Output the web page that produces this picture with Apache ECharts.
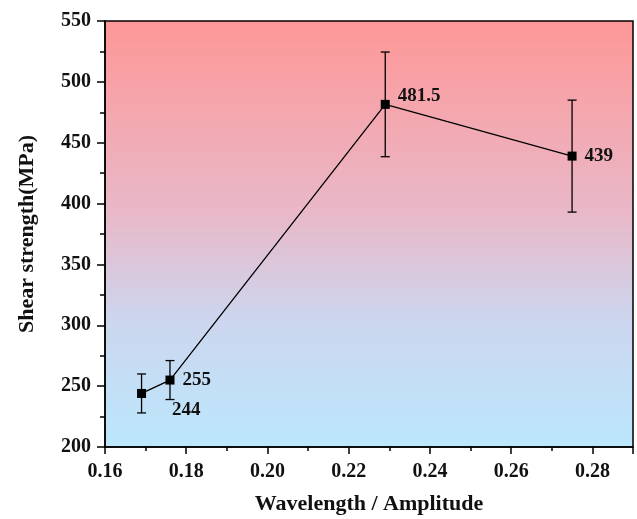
<!DOCTYPE html>
<html>
<head>
<meta charset="utf-8">
<script src="https://cdn.jsdelivr.net/npm/echarts@6/dist/echarts.min.js"></script>
<style>html,body{margin:0;padding:0;background:#fff}#c{width:637px;height:519px}</style>
</head>
<body>
<div id="c"></div>
<script>
const ratios = [0.169, 0.176, 0.229, 0.275];
const strength = [244, 255, 481.5, 439];
const errors = [16, 16, 43, 46];
const labelOffsets = [[18, 17], [0, 0], [0, -8], [0, 0]];

const font = '"Liberation Serif", "Times New Roman", serif';
const chart = echarts.init(document.getElementById('c'));

const pts = ratios.map((x, i) => ({
  value: [x, strength[i]],
  label: { offset: labelOffsets[i] }
}));
const errData = ratios.map((x, i) => [x, strength[i] - errors[i], strength[i] + errors[i]]);

chart.setOption({
  animation: false,
  grid: {
    left: 105, right: 4, top: 21, bottom: 72,
    containLabel: false,
    outerBoundsMode: 'none',
    show: true,
    borderColor: '#000', borderWidth: 1.5,
    backgroundColor: {
      type: 'linear', x: 0, y: 0, x2: 0, y2: 1,
      colorStops: [
        { offset: 0, color: '#fe9797' },
        { offset: 0.45, color: '#e9b8c8' },
        { offset: 0.7, color: '#ccd6ee' },
        { offset: 1, color: '#bbe7fd' }
      ]
    }
  },
  xAxis: {
    type: 'value', min: 0.16, max: 0.29, interval: 0.02,
    name: 'Wavelength / Amplitude', nameLocation: 'middle', nameGap: 46,
    nameTextStyle: { fontFamily: font, fontWeight: 'bold', fontSize: 22, color: '#111' },
    axisLine: { show: true, lineStyle: { color: '#000', width: 1.5 } },
    axisTick: { show: true, length: 7, lineStyle: { color: '#000', width: 1.5 } },
    minorTick: { show: true, splitNumber: 2, length: 4, lineStyle: { color: '#000', width: 1.5 } },
    splitLine: { show: false },
    axisLabel: {
      fontFamily: font, fontWeight: 'bold', fontSize: 20, color: '#111', margin: 15,
      showMaxLabel: false,
      formatter: v => v.toFixed(2)
    }
  },
  yAxis: {
    type: 'value', min: 200, max: 550, interval: 50,
    name: 'Shear strength(MPa)', nameLocation: 'middle', nameGap: 67,
    nameTextStyle: { fontFamily: font, fontWeight: 'bold', fontSize: 22, color: '#111' },
    axisLine: { show: true, lineStyle: { color: '#000', width: 1.5 } },
    axisTick: { show: true, length: 8, lineStyle: { color: '#000', width: 1.5 } },
    minorTick: { show: true, splitNumber: 2, length: 5, lineStyle: { color: '#000', width: 1.5 } },
    splitLine: { show: false },
    axisLabel: { fontFamily: font, fontWeight: 'bold', fontSize: 20, color: '#111', margin: 14 }
  },
  series: [
    {
      type: 'custom',
      data: errData,
      z: 3,
      renderItem: (params, api) => {
        const x = api.value(0);
        const lo = api.coord([x, api.value(1)]);
        const hi = api.coord([x, api.value(2)]);
        const w = 4.5;
        const st = { stroke: '#000', lineWidth: 1.3 };
        return {
          type: 'group',
          children: [
            { type: 'line', shape: { x1: lo[0], y1: lo[1], x2: hi[0], y2: hi[1] }, style: st },
            { type: 'line', shape: { x1: lo[0] - w, y1: lo[1], x2: lo[0] + w, y2: lo[1] }, style: st },
            { type: 'line', shape: { x1: hi[0] - w, y1: hi[1], x2: hi[0] + w, y2: hi[1] }, style: st }
          ]
        };
      }
    },
    {
      type: 'line',
      data: pts,
      z: 4,
      symbol: 'rect', symbolSize: 9,
      itemStyle: { color: '#000' },
      lineStyle: { color: '#000', width: 1.3 },
      label: {
        show: true, position: 'right', distance: 8,
        fontFamily: font, fontWeight: 'bold', fontSize: 19, color: '#111',
        formatter: p => String(p.value[1])
      }
    }
  ]
});
</script>
</body>
</html>
